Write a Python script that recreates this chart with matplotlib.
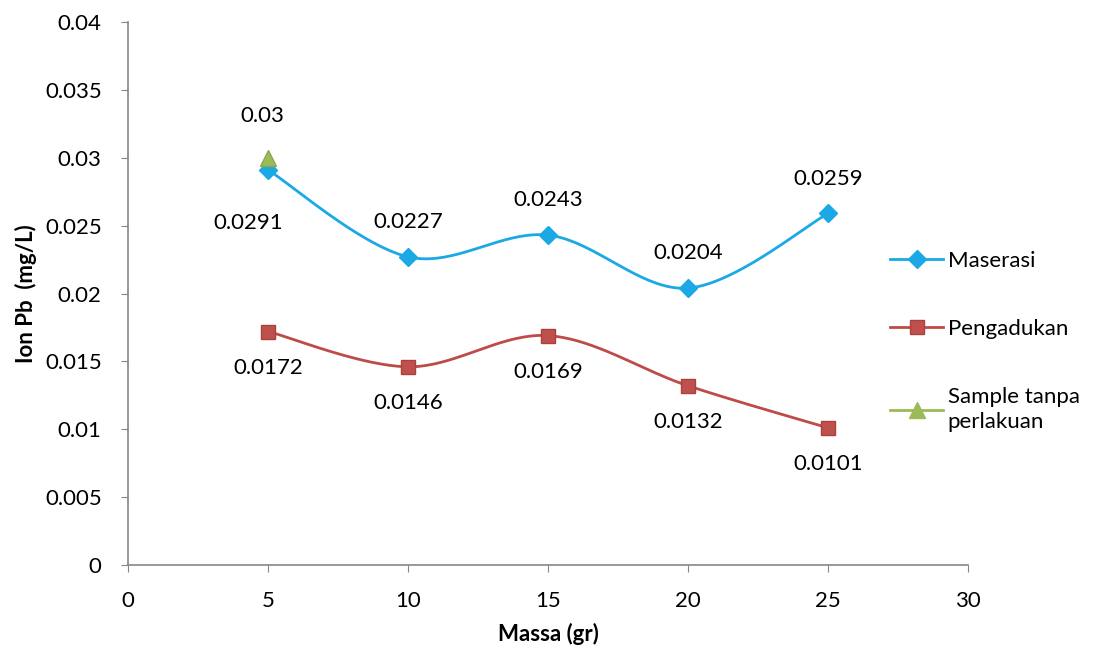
import numpy as np
import matplotlib.pyplot as plt

massa = [5, 10, 15, 20, 25]
maserasi = [0.0291, 0.0227, 0.0243, 0.0204, 0.0259]
pengadukan = [0.0172, 0.0146, 0.0169, 0.0132, 0.0101]
sample_x = [5]
sample_y = [0.03]

plt.rcParams['font.family'] = ['Lato', 'DejaVu Sans']


def smooth(x, y, n=40):
    # Excel-like smoothed line: bezier segments with catmull-rom style handles
    x = np.asarray(x, float)
    y = np.asarray(y, float)
    px = np.concatenate([[x[0]], x, [x[-1]]])
    py = np.concatenate([[y[0]], y, [y[-1]]])
    xs, ys = [], []
    t = np.linspace(0, 1, n)
    for i in range(1, len(px) - 2):
        p0 = np.array([px[i], py[i]])
        p3 = np.array([px[i + 1], py[i + 1]])
        c1 = p0 + (p3 - np.array([px[i - 1], py[i - 1]])) / 6
        c2 = p3 - (np.array([px[i + 2], py[i + 2]]) - p0) / 6
        b = ((1 - t) ** 3)[:, None] * p0 + (3 * (1 - t) ** 2 * t)[:, None] * c1 \
            + (3 * (1 - t) * t ** 2)[:, None] * c2 + (t ** 3)[:, None] * p3
        xs.extend(b[:, 0])
        ys.extend(b[:, 1])
    return xs, ys


fig = plt.figure(figsize=(11.04, 6.55), dpi=100)
ax = fig.add_axes([0.116, 0.1374, 0.761, 0.829])

blue = '#1aa9e4'
red = '#be4b48'
green = '#9bbb59'

sx, sy = smooth(massa, maserasi)
ax.plot(sx, sy, color=blue, lw=2)
ax.plot(massa, maserasi, ls='none', marker='D', ms=9, color=blue, mec=blue)
sx, sy = smooth(massa, pengadukan)
ax.plot(sx, sy, color=red, lw=2)
ax.plot(massa, pengadukan, ls='none', marker='s', ms=10, color='#c0504d', mec='#a8423f')
ax.plot(sample_x, sample_y, ls='none', marker='^', ms=11, color=green, mec='#8aa84e')

fs = 16
for i, (x, y) in enumerate(zip(massa, maserasi)):
    if i == 0:
        ax.annotate(f'{y}', (x, y), xytext=(-14, -38), textcoords='offset points',
                    ha='center', va='center', fontsize=fs)
    else:
        ax.annotate(f'{y}', (x, y), xytext=(0, 25), textcoords='offset points',
                    ha='center', va='center', fontsize=fs)
for x, y in zip(massa, pengadukan):
    ax.annotate(f'{y}', (x, y), xytext=(0, -26), textcoords='offset points',
                ha='center', va='center', fontsize=fs)
ax.annotate('0.03', (5, 0.03), xytext=(-4, 30), textcoords='offset points',
            ha='center', va='center', fontsize=fs)

ax.set_xlim(0, 30)
ax.set_ylim(0, 0.04)
ax.set_xticks(range(0, 31, 5))
yt = np.arange(0, 0.0401, 0.005)
ax.set_yticks(yt)
ax.set_yticklabels(['0'] + [f'{v:g}' for v in yt[1:]])
ax.tick_params(labelsize=fs, direction='out', length=5, color='#868686')
ax.tick_params(axis='x', pad=14)
ax.tick_params(axis='y', pad=14)
for s in ['top', 'right']:
    ax.spines[s].set_visible(False)
for s in ['left', 'bottom']:
    ax.spines[s].set_color('#868686')
    ax.spines[s].set_linewidth(1.2)
ax.set_xlabel('Massa (gr)', fontsize=fs, fontweight='bold', labelpad=8)
ax.set_ylabel('Ion Pb  (mg/L)', fontsize=fs, fontweight='bold', labelpad=6)

# legend to the right of the plot area
handles = [
    plt.Line2D([], [], color=blue, lw=2, marker='D', ms=9),
    plt.Line2D([], [], color=red, lw=2, marker='s', ms=10, mfc='#c0504d', mec='#a8423f'),
    plt.Line2D([], [], color=green, lw=2, marker='^', ms=11),
]
labels = ['Maserasi', 'Pengadukan', 'Sample tanpa\nperlakuan']
leg = fig.legend(handles, labels, loc='upper left', bbox_to_anchor=(890 / 1104, 1 - 251 / 655),
                 frameon=False, fontsize=fs, handlelength=2.4, labelspacing=2.15,
                 handletextpad=0.2, borderpad=0, borderaxespad=0)
leg.get_texts()[2].set_linespacing(1.35)

fig.savefig('out.png', dpi=100)
